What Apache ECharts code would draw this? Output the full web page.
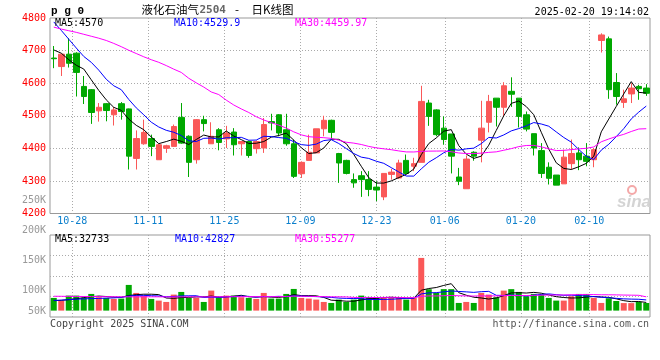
<!DOCTYPE html>
<html><head><meta charset="utf-8">
<script src="https://cdn.jsdelivr.net/npm/echarts@6/dist/echarts.min.js"></script>
<style>html,body{margin:0;padding:0;background:#fff}#c{width:660px;height:360px}</style>
</head><body><div id="c"></div>
<script>
// ---------------- data ----------------
const dates = ['10-23','10-24','10-25','10-28','10-29','10-30','10-31',
 '11-01','11-04','11-05','11-06','11-07','11-08','11-11','11-12','11-13','11-14','11-15','11-18','11-19','11-20','11-21','11-22','11-25','11-26','11-27','11-28','11-29',
 '12-02','12-03','12-04','12-05','12-06','12-09','12-10','12-11','12-12','12-13','12-16','12-17','12-18','12-19','12-20','12-23','12-24','12-25','12-26','12-27','12-30','12-31',
 '01-02','01-03','01-06','01-07','01-08','01-09','01-10','01-13','01-14','01-15','01-16','01-17','01-20','01-21','01-22','01-23','01-24','01-27',
 '02-05','02-06','02-07','02-10','02-11','02-12','02-13','02-14','02-17','02-18','02-19','02-20'];
const labelDates = ['10-28','11-11','11-25','12-09','12-23','01-06','01-20','02-10'];

const open  = [4677,4651,4689,4692,4590,4580,4515,4537,4503,4537,4521,4369,4414,4430,4365,4400,4406,4495,4437,4365,
 4488,4414,4457,4429,4450,4414,4421,4399,4401,4482,4503,4457,4414,4322,4363,4386,4460,4486,4384,4363,
 4304,4316,4304,4281,4251,4320,4309,4363,4345,4357,4539,4518,4462,4444,4312,4276,4388,4425,4480,4554,
 4526,4575,4554,4503,4445,4393,4342,4318,4291,4353,4386,4376,4365,4731,4736,4602,4541,4567,4590,4585];
const close = [4675,4689,4661,4633,4559,4510,4526,4516,4518,4513,4376,4430,4449,4406,4411,4408,4467,4416,4357,4488,
 4476,4437,4418,4447,4411,4421,4378,4421,4473,4478,4447,4414,4314,4357,4388,4460,4486,4449,4355,4323,
 4294,4304,4274,4272,4323,4327,4355,4323,4353,4544,4498,4442,4427,4376,4299,4367,4376,4462,4544,4526,
 4592,4566,4498,4459,4401,4323,4308,4287,4373,4384,4365,4360,4396,4748,4580,4559,4552,4585,4583,4569];
const low   = [4646,4622,4648,4559,4536,4475,4482,4483,4470,4488,4335,4335,4411,4376,4365,4386,4406,4414,4312,4353,
 4452,4414,4394,4401,4378,4378,4371,4384,4386,4455,4437,4408,4309,4309,4363,4386,4437,4429,4294,4320,
 4279,4251,4253,4238,4241,4304,4306,4320,4330,4357,4469,4437,4411,4323,4287,4276,4362,4357,4449,4467,
 4498,4527,4464,4452,4378,4309,4289,4287,4291,4335,4333,4345,4342,4694,4552,4534,4524,4539,4549,4561];
const high  = [4714,4690,4738,4695,4622,4582,4539,4539,4527,4542,4522,4455,4488,4442,4414,4411,4473,4539,4440,4490,
 4500,4480,4462,4469,4462,4421,4424,4424,4493,4506,4505,4506,4427,4360,4442,4460,4500,4488,4386,4365,
 4323,4330,4330,4299,4323,4337,4365,4381,4371,4592,4549,4520,4498,4444,4340,4378,4391,4546,4564,4554,
 4603,4618,4554,4513,4445,4416,4357,4318,4396,4427,4403,4416,4401,4753,4743,4631,4580,4600,4595,4597];

const ma5  = [4702,4692,4672,4655,4643.4,4610.4,4577.8,4548.8,4525.8,4516.6,4489.8,4470.6,4457.2,4434.8,4414.4,4420.8,4428.2,4421.6,4411.8,4427.2,
 4440.8,4434.8,4435.2,4453.2,4437.8,4426.8,4415,4415.6,4420.8,4434.2,4439.4,4446.6,4425.2,4402,4384,4386.6,4401,4428,4427.6,4414.6,
 4381.4,4345,4310,4293.4,4293.4,4300,4310.2,4320,4336.2,4380.4,4414.6,4432,4452.8,4457.4,4408.4,4382.2,4369,4376,4409.6,4455,
 4500,4538,4545.2,4528.2,4503.2,4449.4,4397.8,4355.6,4338.4,4335,4343.4,4353.8,4375.6,4450.6,4489.8,4528.6,4567,4604.8,4571.8,4569.6];
const ma10 = [4788,4762,4735,4708,4682,4664,4640,4612,4592,4580,4550.1,4524.2,4503,4480.3,4465.5,4455.3,4449.4,4439.4,4423.3,4420.8,
 4430.8,4431.5,4428.4,4432.5,4432.5,4433.8,4424.9,4425.4,4437,4436,4433.1,4430.8,4420.4,4411.4,4409.1,4413,4423.8,4426.6,4414.8,4399.3,
 4384,4373,4369,4360.5,4354,4340.7,4327.6,4315,4314.8,4336.9,4357.3,4371.1,4386.4,4396.8,4394.4,4398.4,4400.5,4414.4,4433.5,4431.7,
 4441.1,4453.5,4460.6,4468.9,4479.1,4474.7,4467.9,4450.4,4433.3,4419.1,4396.4,4375.8,4365.6,4394.5,4412.4,4436,4460.4,4490.2,4511.2,4529.7];
const ma30 = [4772,4766,4761,4756,4750,4744,4738,4731,4722,4712,4701,4691,4681,4672,4664,4654,4643,4633,4615,4601,
 4588,4573,4565,4548,4533,4521,4510,4497,4487,4478.9,4471.3,4462.2,4450.6,4441.4,4435.7,4434.0,4432.7,4430.5,4425.0,4418.7,
 4416.0,4411.8,4405.9,4401.5,4398.5,4395.8,4392.1,4389.0,4388.8,4390.7,4391.4,4391.6,4391.9,4389.5,4385.8,4384.0,4383.9,4385.3,4387.6,4389.2,
 4394.1,4399.1,4405.3,4408.7,4409.1,4404.6,4398.6,4393.2,4393.8,4395.9,4398.3,4400.1,4404.2,4420.1,4428.6,4436.4,4442.9,4451.7,4459.3,4460.2];

const vol = [50800,40100,60100,60100,50800,66800,53400,50800,46800,48100,102900,70800,60100,46800,40100,34700,64100,74800,50800,50800,
 34700,80200,53400,60100,60100,53400,50800,46800,70800,48100,48100,66800,86800,50800,48100,44100,34700,30700,44100,34700,
 44100,60100,54800,50800,50800,50800,50800,44100,50800,211100,85600,70800,86000,86000,30700,34700,30700,70800,64100,53400,
 80200,86000,74800,57400,66800,64100,50800,40100,40100,57400,66800,66800,50800,30700,49500,38500,30200,30000,34500,30500];
const volMa5 = [40000,41000,44000,47000,52400,55600,58200,56400,53700,53200,60400,63900,65700,65700,64100,50500,49200,52100,52900,55000,
 55000,58300,54000,55800,57700,61400,55600,54200,56400,54000,52900,56100,64100,60100,60100,59300,52900,41700,40300,37700,
 37700,42700,47600,48900,52100,53500,51600,49500,49500,81500,88500,92500,100900,107900,71800,61600,53600,50600,46200,50700,
 59800,70900,71700,70400,73000,69800,62800,55800,52400,50500,51000,54200,56400,54500,52900,47300,39900,35800,36500,32700];
const volMa10 = [41000,42000,44000,46000,47000,48000,49000,50000,51000,52800,58000,61100,61100,59700,58700,55500,56600,58900,59300,59600,
 52800,53800,53100,54400,56400,58200,57000,54100,56100,55900,57200,55900,59200,58300,57100,56100,54500,52900,50200,48900,
 48500,47800,44700,44600,44900,45600,47200,48600,49200,66800,71000,72100,75200,78700,76700,75100,73100,75800,77100,61300,
 60700,62300,61200,58300,61900,64800,66900,63800,61400,61800,60400,58500,56100,53500,51700,49200,47100,46100,45500,42800];
const volMa30 = [57500,57300,57000,56800,56500,56300,56000,55800,55500,55300,55200,55200,55300,55300,55200,55000,55000,55100,55100,55200,
 55000,55300,55400,55500,55700,55800,55900,56000,56000,56100,56000,56900,57800,57500,57400,56600,56000,55300,55200,54800,
 52800,52500,52300,52400,52800,53300,52900,51800,51800,57200,58900,58600,59700,60500,59600,58900,58300,59100,58800,59000,
 60100,60700,60300,60500,61200,61800,62400,62700,62600,63300,64100,64300,64200,63500,63400,63000,62300,61900,61300,55300];

const priceTicks = {min:4200, max:4800, step:100};
const volTickLabels = {min:50000, max:250000, step:50000};

// ---------------- styles ----------------
const RED = '#fa5858', GREEN = '#00a800', GRIDC = '#aaaaaa', FRAME = '#999999';
const MONO = '"DejaVu Sans Mono", monospace';
const CJK = '"Noto Sans CJK SC", sans-serif';
const dotted = {color: GRIDC, width: 1, type: [1, 2]};
const showDate = (i, v) => labelDates.indexOf(v) >= 0;

const candleData = dates.map((d, i) => [open[i], close[i], low[i], high[i]]);
const volData = vol.map((v, i) => ({value: v, itemStyle: {color: close[i] >= open[i] ? RED : GREEN}}));

const hiddenCat = (g) => ({gridIndex: g, type: 'category', data: dates, boundaryGap: true,
  axisLine: {show: false}, axisTick: {show: false}, axisLabel: {show: false}, splitLine: {show: false}});

function txt(x, y, text, font, fill, align) {
  return {type: 'text', x: x, y: y, z: 50, silent: true,
    style: {text: text, font: font, fill: fill, align: align || 'left', verticalAlign: 'middle',
      textAlign: align || 'left', textVerticalAlign: 'middle'}};
}

const chart = echarts.init(document.getElementById('c'), null, {renderer: 'canvas'});
chart.setOption({
  animation: false,
  backgroundColor: '#ffffff',
  grid: [
    {left: 50, top: 18, width: 600, height: 195.5, show: true, borderColor: FRAME, borderWidth: 1},
    {left: 50, top: 235, width: 600, height: 82, show: true, borderColor: FRAME, borderWidth: 1},
    {left: 49.5, top: 18, width: 600.6, height: 195.5},
    {left: 49.5, top: 235, width: 600.6, height: 82},
    {left: 50, top: 200, width: 600, height: 120}
  ],
  xAxis: [
    hiddenCat(0),
    hiddenCat(1),
    {gridIndex: 2, type: 'category', data: dates, boundaryGap: false,
      axisLine: {show: false}, axisTick: {show: false},
      axisLabel: {interval: showDate, color: '#0b7fcc', fontSize: 10, fontFamily: MONO, margin: 3},
      splitLine: {show: true, interval: showDate, lineStyle: dotted}},
    {gridIndex: 3, type: 'category', data: dates, boundaryGap: false,
      axisLine: {show: false}, axisTick: {show: false}, axisLabel: {show: false},
      splitLine: {show: true, interval: showDate, lineStyle: dotted}},
    {gridIndex: 4, type: 'value', show: false}
  ],
  yAxis: [
    {gridIndex: 0, type: 'value', min: priceTicks.min, max: priceTicks.max, interval: priceTicks.step,
      axisLine: {show: false}, axisTick: {show: false},
      axisLabel: {color: '#ff0000', fontSize: 10, fontFamily: MONO, margin: 4, padding: [0, 0, 4, 0],
        showMinLabel: true, showMaxLabel: true, formatter: (v) => String(v)},
      splitLine: {show: true, showMinLine: false, showMaxLine: false, lineStyle: dotted}},
    {gridIndex: 1, type: 'value', min: -25600, max: 302900, interval: 82125,
      axisLine: {show: false}, axisTick: {show: false}, axisLabel: {show: false},
      splitLine: {show: true, showMinLine: false, showMaxLine: false, lineStyle: dotted}},
    {gridIndex: 2, type: 'value', show: false},
    {gridIndex: 3, type: 'value', show: false},
    {gridIndex: 4, type: 'value', min: volTickLabels.min, max: volTickLabels.max, interval: volTickLabels.step,
      axisLine: {show: false}, axisTick: {show: false}, splitLine: {show: false},
      axisLabel: {color: '#999999', fontSize: 10, fontFamily: MONO, margin: 4, showMinLabel: true, showMaxLabel: true,
        formatter: (v) => v === volTickLabels.min ? '{lo|' + (v / 1000) + 'K}' : (v / 1000) + 'K',
        rich: {lo: {color: '#999999', fontSize: 10, fontFamily: MONO, padding: [0, 0, 18, 0]}}}}
  ],
  series: [
    {type: 'candlestick', xAxisIndex: 0, yAxisIndex: 0, data: candleData, barWidth: 6,
      itemStyle: {color: RED, color0: GREEN, borderColor: RED, borderColor0: GREEN, borderWidth: 1}},
    {type: 'line', xAxisIndex: 0, yAxisIndex: 0, data: ma5, symbol: 'none', lineStyle: {color: '#000000', width: 1}},
    {type: 'line', xAxisIndex: 0, yAxisIndex: 0, data: ma10, symbol: 'none', lineStyle: {color: '#0000ff', width: 1}},
    {type: 'line', xAxisIndex: 0, yAxisIndex: 0, data: ma30, symbol: 'none', lineStyle: {color: '#ff00ff', width: 1}},
    {type: 'bar', xAxisIndex: 1, yAxisIndex: 1, data: volData, barWidth: 6},
    {type: 'line', xAxisIndex: 1, yAxisIndex: 1, data: volMa5, symbol: 'none', lineStyle: {color: '#000000', width: 1}},
    {type: 'line', xAxisIndex: 1, yAxisIndex: 1, data: volMa10, symbol: 'none', lineStyle: {color: '#0000ff', width: 1}},
    {type: 'line', xAxisIndex: 1, yAxisIndex: 1, data: volMa30, symbol: 'none', lineStyle: {color: '#ff00ff', width: 1}}
  ],
  graphic: [
    txt(51, 11, 'p g 0', 'bold 11px "Liberation Mono", monospace', '#000000'),
    txt(141.5, 9.5, '液化石油气', '11.5px ' + CJK, '#000000'),
    txt(199.5, 10, '2504', 'bold 11px ' + MONO, '#666666'),
    txt(235, 9.5, '-', '11.5px ' + CJK, '#000000'),
    txt(251.5, 9.5, '日K线图', '11.5px ' + CJK, '#000000'),
    txt(649, 12, '2025-02-20 19:14:02', '10px ' + MONO, '#000000', 'right'),
    txt(55, 23.5, 'MA5:4570', '10px ' + MONO, '#000000'),
    txt(174, 23.5, 'MA10:4529.9', '10px ' + MONO, '#0000ff'),
    txt(295, 23.5, 'MA30:4459.97', '10px ' + MONO, '#ff00ff'),
    txt(55, 239, 'MA5:32733', '10px ' + MONO, '#000000'),
    txt(175, 239, 'MA10:42827', '10px ' + MONO, '#0000ff'),
    txt(295, 239, 'MA30:55277', '10px ' + MONO, '#ff00ff'),
    txt(50, 324, 'Copyright 2025 SINA.COM', '10px ' + MONO, '#444444'),
    txt(649, 324, 'http://finance.sina.com.cn', '10px ' + MONO, '#555555', 'right'),
    {type: 'circle', z: 40, silent: true, shape: {cx: 632, cy: 190, r: 4}, style: {fill: 'none', stroke: '#f4a9a9', lineWidth: 2}},
    txt(617, 202, 'sina', 'italic bold 17px "Liberation Sans", sans-serif', '#d4d4d4')
  ]
});
</script>
</body></html>
